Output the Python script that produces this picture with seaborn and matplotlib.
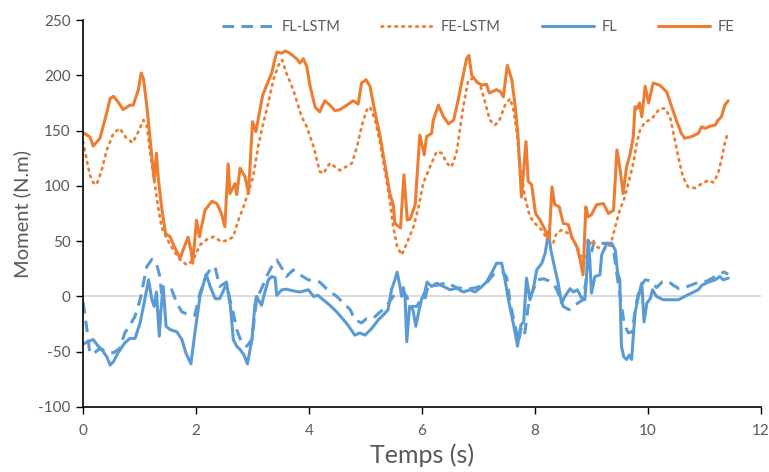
import matplotlib
matplotlib.use("Agg")
import matplotlib.pyplot as plt
import seaborn as sns
import pandas as pd

# ---------------- data ----------------
fe_t = [0.00, 0.12, 0.18, 0.30, 0.42, 0.48, 0.54, 0.62, 0.71, 0.83, 0.89, 0.98, 1.03, 1.07, 1.13, 1.19,
        1.26, 1.30, 1.33, 1.39, 1.46, 1.54, 1.63, 1.72, 1.77, 1.86, 1.92, 1.94, 2.01, 2.06, 2.16, 2.28,
        2.37, 2.45, 2.51, 2.57, 2.60, 2.69, 2.72, 2.78, 2.87, 2.93, 3.00, 3.06, 3.18, 3.25, 3.34, 3.38,
        3.43, 3.52, 3.58, 3.66, 3.78, 3.84, 3.90, 3.96, 4.02, 4.11, 4.19, 4.28, 4.37, 4.46, 4.55, 4.67,
        4.78, 4.87, 4.93, 5.01, 5.08, 5.17, 5.26, 5.31, 5.37, 5.43, 5.49, 5.52, 5.62, 5.68, 5.74, 5.79,
        5.88, 5.96, 6.04, 6.08, 6.17, 6.20, 6.29, 6.38, 6.47, 6.56, 6.64, 6.70, 6.79, 6.83, 6.88, 6.97,
        7.06, 7.14, 7.19, 7.32, 7.39, 7.44, 7.51, 7.59, 7.65, 7.70, 7.76, 7.84, 7.88, 7.94, 8.01, 8.09,
        8.18, 8.25, 8.30, 8.35, 8.43, 8.50, 8.59, 8.65, 8.74, 8.80, 8.85, 8.90, 8.94, 9.00, 9.09, 9.21,
        9.30, 9.39, 9.45, 9.50, 9.56, 9.62, 9.68, 9.74, 9.77, 9.81, 9.85, 9.89, 9.95, 10.01, 10.09, 10.21,
        10.33, 10.42, 10.50, 10.59, 10.65, 10.77, 10.89, 10.95, 11.01, 11.10, 11.19, 11.24, 11.30, 11.36, 11.42]
fe_v = [148, 144.5, 136, 143, 166, 179, 181, 176, 169, 173, 173, 187, 202, 197, 172, 141.5,
        105, 129.5, 108, 81, 57, 54, 43.5, 34.5, 42, 53.5, 39, 30, 69, 54, 78, 86,
        84, 75, 63, 120, 93, 102, 92, 116, 108, 93, 158, 149, 182, 191, 202, 211,
        221, 220, 222, 220, 215, 211, 215, 208, 190, 171, 167, 177, 173, 168, 169, 173,
        177, 174, 193, 196, 190, 166, 144.5, 129.5, 111, 93, 83, 66, 62, 110, 69, 70,
        83, 146, 128, 144.5, 147.5, 159.5, 173, 162.5, 156, 159.5, 177.5, 193, 215, 218, 200, 194,
        191, 192, 184, 187, 185, 180.5, 209, 196, 171.5, 144.5, 90, 140, 104, 101, 75, 69,
        60, 51, 99, 83, 81, 66, 65, 54, 45, 33, 19.5, 81, 72, 74, 83, 84,
        75, 78, 132.5, 117, 93, 117, 128, 144.5, 171.5, 170, 175, 162.5, 190, 175, 193, 191,
        185, 171.5, 159.5, 147.5, 143, 144.5, 147.5, 153.5, 152, 154, 155, 159.5, 162.5, 173, 177]

fel_t = [0.00, 0.06, 0.12, 0.18, 0.24, 0.33, 0.42, 0.54, 0.65, 0.77, 0.88, 0.98, 1.07, 1.13, 1.19, 1.27,
         1.33, 1.39, 1.48, 1.60, 1.72, 1.84, 1.95, 2.07, 2.19, 2.31, 2.45, 2.57, 2.66, 2.75, 2.84, 2.93,
         3.01, 3.10, 3.19, 3.28, 3.37, 3.46, 3.52, 3.60, 3.72, 3.87, 3.96, 4.08, 4.19, 4.25, 4.37, 4.55,
         4.76, 4.85, 4.93, 5.02, 5.08, 5.17, 5.26, 5.34, 5.43, 5.49, 5.56, 5.64, 5.73, 5.85, 5.94, 6.02,
         6.14, 6.26, 6.35, 6.44, 6.52, 6.61, 6.67, 6.73, 6.82, 6.91, 7.03, 7.12, 7.20, 7.29, 7.36, 7.47,
         7.56, 7.62, 7.68, 7.73, 7.82, 7.91, 8.00, 8.12, 8.23, 8.32, 8.38, 8.47, 8.59, 8.68, 8.80, 8.85,
         8.91, 9.00, 9.09, 9.21, 9.30, 9.36, 9.42, 9.50, 9.59, 9.68, 9.74, 9.80, 9.86, 9.95, 10.04, 10.12,
         10.21, 10.30, 10.39, 10.45, 10.50, 10.56, 10.62, 10.71, 10.83, 10.95, 11.07, 11.16, 11.24, 11.30, 11.36, 11.41]
fel_v = [140, 125, 110, 103, 101, 114, 132.5, 147.5, 152, 143, 139, 149, 159.5, 154, 129.5, 102,
         81, 63, 52.5, 42, 33, 28.5, 33, 46.5, 51.5, 54, 49.5, 51, 54, 69, 81, 95,
         108, 135.5, 156.5, 175, 196, 209, 214, 202, 187, 162.5, 153.5, 135.5, 113, 111, 120.5, 114,
         120.5, 135.5, 153.5, 168.5, 171.5, 159.5, 138.5, 114, 87, 63, 45, 37.5, 48, 63, 81, 102,
         117, 131, 129.5, 120.5, 117, 129.5, 150.5, 171.5, 196, 197, 191, 175, 159.5, 155, 158, 173,
         179, 168.5, 147.5, 120.5, 90, 72, 66, 60, 51, 48, 57, 60, 57, 51, 39, 27,
         39, 51, 45, 42, 45, 51, 63, 78, 90, 108, 120.5, 138.5, 150.5, 158, 159.5, 164,
         170, 170, 162.5, 147.5, 135.5, 120.5, 108, 99, 98, 102, 105, 103, 111, 123.5, 138.5, 147.5]

fl_t = [0.00, 0.18, 0.27, 0.36, 0.42, 0.48, 0.54, 0.62, 0.74, 0.83, 0.92, 1.01, 1.07, 1.16, 1.22, 1.26,
        1.30, 1.35, 1.38, 1.42, 1.47, 1.54, 1.66, 1.75, 1.82, 1.91, 1.98, 2.07, 2.18, 2.25, 2.34, 2.42,
        2.50, 2.54, 2.61, 2.66, 2.72, 2.78, 2.85, 2.91, 2.99, 3.04, 3.07, 3.16, 3.22, 3.28, 3.34, 3.40,
        3.43, 3.52, 3.60, 3.72, 3.84, 3.99, 4.08, 4.16, 4.25, 4.37, 4.49, 4.61, 4.69, 4.81, 4.90, 4.99,
        5.11, 5.23, 5.31, 5.40, 5.46, 5.52, 5.56, 5.61, 5.64, 5.67, 5.70, 5.73, 5.78, 5.84, 5.89, 5.95,
        5.99, 6.05, 6.09, 6.17, 6.26, 6.38, 6.50, 6.61, 6.73, 6.85, 6.94, 7.06, 7.14, 7.23, 7.32, 7.41,
        7.47, 7.53, 7.59, 7.65, 7.69, 7.75, 7.80, 7.85, 7.91, 7.97, 8.03, 8.12, 8.18, 8.24, 8.28, 8.35,
        8.41, 8.47, 8.53, 8.62, 8.68, 8.75, 8.83, 8.88, 8.91, 8.94, 8.97, 9.00, 9.06, 9.15, 9.18, 9.27,
        9.36, 9.42, 9.46, 9.50, 9.53, 9.57, 9.62, 9.67, 9.71, 9.77, 9.83, 9.89, 9.93, 9.98, 10.04, 10.08,
        10.15, 10.27, 10.39, 10.54, 10.65, 10.77, 10.89, 10.95, 11.07, 11.19, 11.27, 11.33, 11.42]
fl_v = [-43, -39, -45, -50, -54.5, -62, -59, -51, -42, -38, -38, -24, -9, 15, -3, -9,
        4, -36, -12, 9, -27, -30, -32, -39, -51, -61, -33, 0, 20, 9, -2, -2,
        7, 12, -9, -39, -45, -48, -53, -61, -39, -9, 0, -8, 4, 15, 18, 17,
        1, 6, 6.5, 5, 4, 6, 0, 1, -3, -8, -14, -21, -26, -35, -33, -35,
        -29, -21, -17, -12, 6, 15, 22, 9, 0, 8, 0, -41, -9, -12, -27, -12,
        -3, 4, 13, 9, 12, 9, 6, 7.5, 4, 6, 4, 9, 13, 21, 30, 30,
        15, -3, -18, -33, -45, -26, -23, 16.5, -3, 7, 24, 30, 39, 58.5, 42, 25.5,
        12, -6, 0, 7, 4, 6, -2, -3, 15, 51, 33, 3, 18, 19.5, 37.5, 48,
        48, 42, 22, 15, -45, -54.5, -57, -53, -57, -15, 0, 12, -23, -6, -2, 6,
        0, -3, -3, -3, 0, 3, 6, 10, 13, 15, 18, 15, 16.5]

fll_t = [0.00, 0.07, 0.12, 0.18, 0.30, 0.42, 0.54, 0.65, 0.74, 0.83, 0.92, 1.01, 1.07, 1.13, 1.22, 1.30,
         1.36, 1.39, 1.48, 1.57, 1.66, 1.75, 1.89, 1.98, 2.07, 2.19, 2.28, 2.34, 2.42, 2.54, 2.60, 2.66,
         2.72, 2.81, 2.90, 2.99, 3.07, 3.16, 3.25, 3.34, 3.43, 3.52, 3.60, 3.72, 3.84, 3.99, 4.19, 4.31,
         4.49, 4.61, 4.73, 4.81, 4.93, 5.02, 5.13, 5.26, 5.37, 5.49, 5.57, 5.67, 5.73, 5.79, 5.91, 5.97,
         6.05, 6.11, 6.26, 6.44, 6.61, 6.79, 6.97, 7.14, 7.26, 7.32, 7.44, 7.50, 7.56, 7.65, 7.71, 7.76,
         7.82, 7.88, 7.94, 8.05, 8.15, 8.25, 8.35, 8.42, 8.50, 8.60, 8.70, 8.85, 8.95, 9.05, 9.15, 9.30,
         9.38, 9.45, 9.52, 9.58, 9.65, 9.72, 9.78, 9.85, 9.95, 10.05, 10.15, 10.25, 10.35, 10.45, 10.55, 10.65,
         10.75, 10.85, 10.95, 11.05, 11.15, 11.25, 11.35, 11.42]
fll_v = [-5, -30, -51, -52, -47, -50, -51, -47, -33, -26, -18, -3, 12, 27, 33.5, 30,
         18, 3, 4, 6, -6, -14, -17, -17, 3, 19.5, 27, 26, 9, 13, -3, -15,
         -30, -42, -45, -39, -3, 7, 18, 27, 33, 25.5, 18, 24, 19.5, 15, 13, 7,
         0, -6, -12, -21, -24, -20, -20, -14, -9, 0, 3, 4, 0, -9, -9, -3,
         -3, 10, 10, 12.5, 8, 6.5, 8, 12, 19.5, 21, 21.5, 17, -6, -27, -41, -27,
         -33, -9, 3, 15, 16, 14, 10, 2, -9, -12, -8, -3, 30, 50, 48, 48,
         45, 20, -5, -25, -33, -32, -10, 8, 15, 14, 8, 13, 14, 10, 7, 8,
         10, 12, 13, 14, 17, 20, 22, 20]

x_ticks = [0, 2, 4, 6, 8, 10, 12]
y_ticks = [-100, -50, 0, 50, 100, 150, 200, 250]

# ---------------- style ----------------
sns.set_theme(style="white")
plt.rcParams['font.family'] = ['Lato', 'DejaVu Sans']
gray = "#595959"
blue = "#5B9BD5"
orange = "#ED7D31"

fig = plt.figure(figsize=(7.69, 4.72), dpi=100)
ax = fig.add_axes([83 / 769, (472 - 407) / 472, (761 - 83) / 769, (407 - 20) / 472])

ax.axhline(0, color="#D9D9D9", lw=1.3, zorder=0)

lw = 2.2
sns.lineplot(x=fll_t, y=fll_v, ax=ax, color=blue, lw=lw, linestyle=(0, (3.8, 2.4)),
             label="FL-LSTM", sort=False, estimator=None)
sns.lineplot(x=fel_t, y=fel_v, ax=ax, color=orange, lw=2.0, linestyle=(0, (0.6, 1.9)),
             dash_capstyle="round", label="FE-LSTM", sort=False, estimator=None)
sns.lineplot(x=fl_t, y=fl_v, ax=ax, color=blue, lw=lw, label="FL", sort=False, estimator=None)
sns.lineplot(x=fe_t, y=fe_v, ax=ax, color=orange, lw=lw, label="FE", sort=False, estimator=None)

ax.set_xlim(0, 12)
ax.set_ylim(-100, 250)
ax.set_xticks(x_ticks)
ax.set_yticks(y_ticks)
ax.set_xticklabels([str(v) for v in x_ticks])
ax.set_yticklabels([str(v) for v in y_ticks])
ax.tick_params(axis="both", which="major", direction="out", length=5, width=1,
               color="black", labelcolor=gray, labelsize=11, pad=4)
ax.tick_params(axis="x", pad=7)
ax.xaxis.set_ticks_position("bottom")
ax.yaxis.set_ticks_position("left")

for side in ["top", "right"]:
    ax.spines[side].set_visible(False)
for side in ["left", "bottom"]:
    ax.spines[side].set_color("black")
    ax.spines[side].set_linewidth(1.2)

ax.set_xlabel("Temps (s)", color=gray, fontsize=18, labelpad=4)
ax.set_ylabel("Moment (N.m)", color=gray, fontsize=14.5, labelpad=5)

leg = ax.legend(loc="center", bbox_to_anchor=(478 / 769, 1 - 27 / 472),
                bbox_transform=fig.transFigure, ncol=4, frameon=False,
                fontsize=10.5, handlelength=3.6, columnspacing=2.8, handletextpad=0.5)
for t in leg.get_texts():
    t.set_color(gray)

fig.savefig("out.png", dpi=100)
